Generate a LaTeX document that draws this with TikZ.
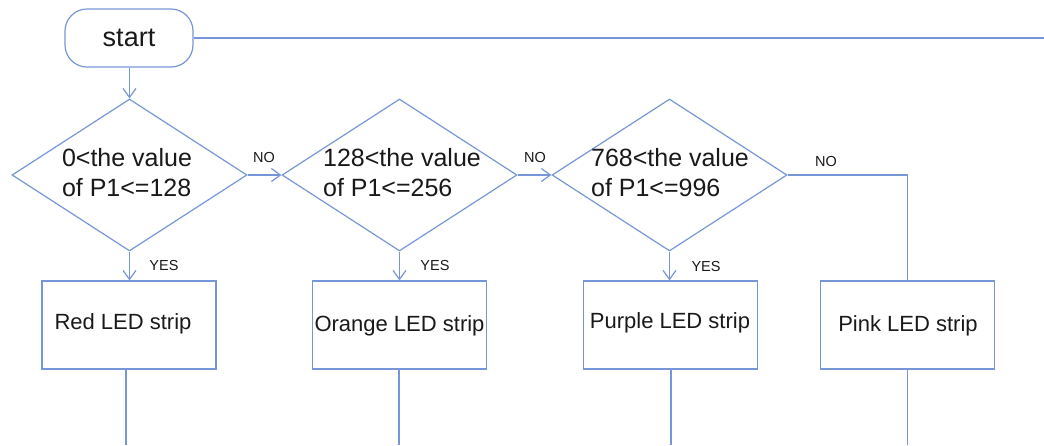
\documentclass[tikz,border=0pt]{standalone}
\usepackage{fontspec}
\setmainfont{Liberation Sans}
\usetikzlibrary{shapes.geometric,arrows.meta}
\definecolor{flow}{RGB}{118,150,216}
\definecolor{ink}{RGB}{25,25,25}
\begin{document}
\begin{tikzpicture}[x=1pt,y=-1pt,
  line/.style={draw=flow,line width=1.2pt},
  arr/.style={line,-{Straight Barb[length=9pt,width=13pt,line width=1.2pt]}},
  dia/.style={line,diamond,inner sep=0pt,minimum width=235pt,minimum height=152pt,aspect=1.546},
  diatext/.style={align=left,text=ink,font=\fontsize{25}{30}\selectfont,inner sep=0pt},
  boxstyle/.style={line,rectangle,minimum width=174pt,minimum height=88pt,inner sep=0pt},
  boxtext/.style={text=ink,font=\fontsize{22}{26}\selectfont,inner sep=0pt},
  lab/.style={text=ink,font=\fontsize{14.5}{17}\selectfont,inner sep=0pt}]
\useasboundingbox (0,0) rectangle (1044,445);
\node[line,rectangle,rounded corners=22pt,minimum width=128pt,minimum height=58pt,inner sep=0pt,text=ink,font=\fontsize{27}{32}\selectfont] (start) at (129,38) {start};
\coordinate (topend) at (1044,38);
\draw[line] (start.east) -- (topend);

\node[dia] (d1) at (129.5,175) {};
\node[dia] (d2) at (399.5,175) {};
\node[dia] (d3) at (669.5,175) {};
\node[diatext] (t1) at (127,173) {0<the value\\of P1<=128};
\node[diatext] (t2) at (402,173) {128<the value\\of P1<=256};
\node[diatext] (t3) at (670,173) {768<the value\\of P1<=996};

\node[boxstyle] (b1) at (129,325) {};
\node[boxstyle] (b2) at (399.5,325) {};
\node[boxstyle] (b3) at (670.5,325) {};
\node[boxstyle] (b4) at (907.5,325) {};
\node[boxtext] (bt1) at (123,324) {Red LED strip};
\node[boxtext] (bt2) at (399.5,326) {Orange LED strip};
\node[boxtext] (bt3) at (670,323) {Purple LED strip};
\node[boxtext] (bt4) at (908,326) {Pink LED strip};

\draw[arr] (start.south -| d1.north) -- (d1.north);
\draw[arr] (d1.east) -- (d2.west);
\draw[arr] (d2.east) -- (d3.west);
\draw[line] (d3.east) -| (b4.north);
\draw[arr] (d1.south) -- (d1.south |- b1.north);
\draw[arr] (d2.south) -- (d2.south |- b2.north);
\draw[arr] (d3.south) -- (d3.south |- b3.north);

\node[lab] (no1) at (264,158) {NO};
\node[lab] (no2) at (535,158) {NO};
\node[lab] (no3) at (826,162) {NO};
\node[lab] (y1) at (164,266) {YES};
\node[lab] (y2) at (435,266) {YES};
\node[lab] (y3) at (706,267) {YES};

\coordinate (e1) at (126,445);
\coordinate (e2) at (399,445);
\coordinate (e3) at (671,445);
\coordinate (e4) at (907.5,445);
\draw[line] (b1.south -| e1) -- (e1);
\draw[line] (b2.south -| e2) -- (e2);
\draw[line] (b3.south -| e3) -- (e3);
\draw[line] (b4.south) -- (e4);
\end{tikzpicture}
\end{document}
